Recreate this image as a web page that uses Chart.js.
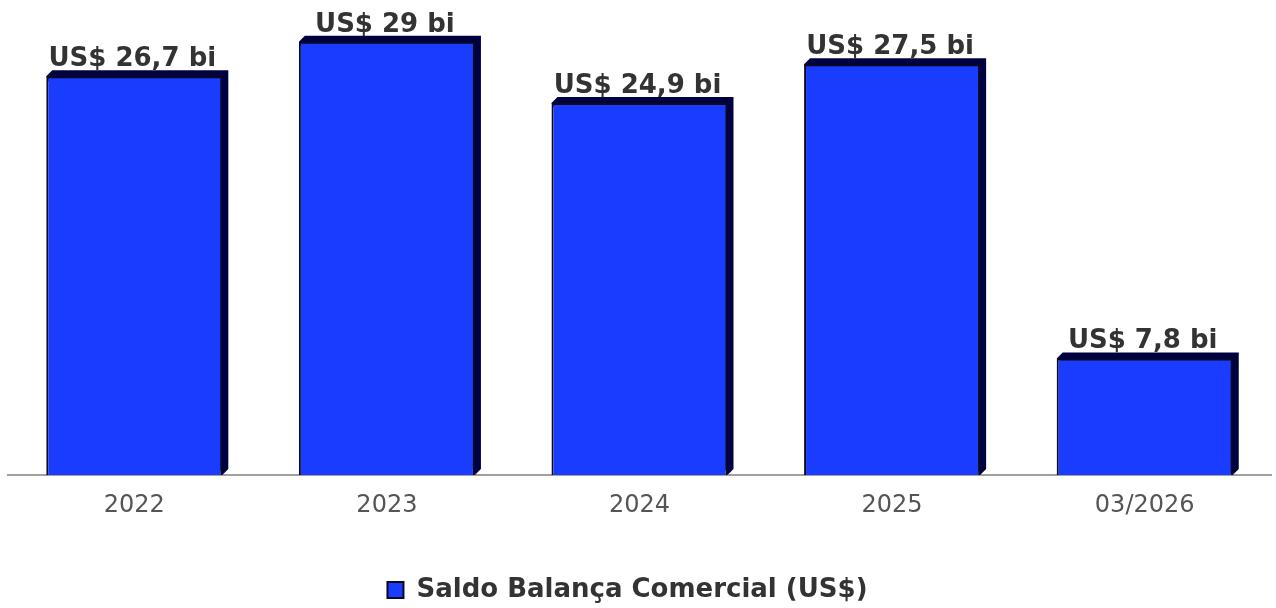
<!DOCTYPE html>
<html>
<head>
<meta charset="utf-8">
<script src="https://cdn.jsdelivr.net/npm/chart.js@4/dist/chart.umd.min.js"></script>
<style>
  body { margin: 0; background: #fff; }
  #wrap { width: 1276px; height: 608px; }
</style>
</head>
<body>
<div id="wrap"><canvas id="grafico"></canvas></div>
<script>
const categorias = ['2022', '2023', '2024', '2025', '03/2026'];
const saldo = [26.7, 29, 24.9, 27.5, 7.8];
const nomeSerie = 'Saldo Balança Comercial (US$)';

const azul = '#1a3cff';
const sombra = '#000040';

// sombra deslocada atras de cada barra
const sombraBarras = {
    id: 'sombraBarras',
    beforeDatasetsDraw(chart) {
        const ctx = chart.ctx;
        const meta = chart.getDatasetMeta(0);
        ctx.save();
        ctx.fillStyle = sombra;
        meta.data.forEach(bar => {
            const x0 = bar.x - bar.width / 2;
            const x1 = bar.x + bar.width / 2;
            const d = 6;
            ctx.beginPath();
            ctx.moveTo(x0, bar.y);
            ctx.lineTo(x0 + d, bar.y - d);
            ctx.lineTo(x1 + d, bar.y - d);
            ctx.lineTo(x1 + d, bar.base - d);
            ctx.lineTo(x1, bar.base);
            ctx.closePath();
            ctx.fill();
        });
        ctx.restore();
    }
};

// rotulos de valor em cima das barras
const rotulos = {
    id: 'rotulos',
    afterDatasetsDraw(chart) {
        const ctx = chart.ctx;
        const meta = chart.getDatasetMeta(0);
        ctx.save();
        ctx.font = 'bold 26px "DejaVu Sans"';
        ctx.fillStyle = '#333';
        ctx.textAlign = 'center';
        ctx.textBaseline = 'alphabetic';
        meta.data.forEach((bar, i) => {
            const txt = 'US$ ' + String(saldo[i]).replace('.', ',') + ' bi';
            ctx.fillText(txt, bar.x - 2, bar.y - 10);
        });
        ctx.restore();
    }
};

// legenda um pouco para a esquerda
const moveLegenda = {
    id: 'moveLegenda',
    afterLayout(chart) {
        chart.legend.left -= 12;
        chart.legend.right -= 12;
    }
};

new Chart(document.getElementById('grafico'), {
    type: 'bar',
    data: {
        labels: categorias,
        datasets: [{
            label: nomeSerie,
            data: saldo,
            backgroundColor: azul,
            borderColor: '#0a0a1a',
            borderWidth: 2,
            borderSkipped: 'bottom',
            barPercentage: 1,
            categoryPercentage: 0.697
        }]
    },
    options: {
        responsive: true,
        maintainAspectRatio: false,
        animation: false,
        layout: { padding: { left: 8, right: 5, top: 0, bottom: -5 } },
        scales: {
            x: {
                grid: { display: false, drawTicks: false },
                border: { display: true, color: '#a0a0a0', width: 2 },
                ticks: {
                    color: '#555',
                    font: { family: 'DejaVu Sans', size: 24 },
                    padding: 16
                },
                // eixo em y=475
                afterFit(s) { s.height = s.chart.height + 5 - 475 - s.chart.legend.height; }
            },
            y: {
                display: false,
                min: 0,
                max: 31.8
            }
        },
        plugins: {
            tooltip: { enabled: false },
            legend: {
                position: 'bottom',
                labels: {
                    color: '#333',
                    boxWidth: 16,
                    boxHeight: 16,
                    padding: 0,
                    font: { family: 'DejaVu Sans', size: 26, weight: 'bold' }
                }
            }
        }
    },
    plugins: [sombraBarras, rotulos, moveLegenda]
});
</script>
</body>
</html>
